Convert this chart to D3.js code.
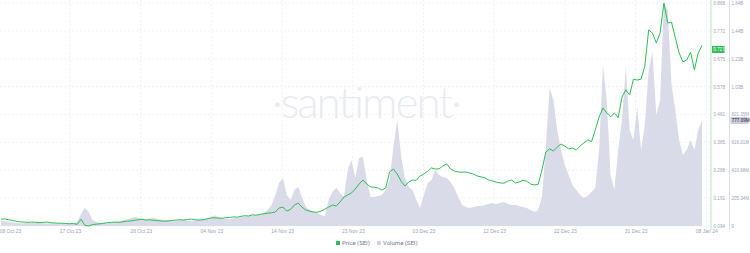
<!DOCTYPE html>
<html>
<head>
<meta charset="utf-8">
<script src="https://cdn.jsdelivr.net/npm/d3@7"></script>
<style>
  body { margin: 0; background: #fff; }
  svg { display: block; font-family: Roboto, "Open Sans", sans-serif; }
</style>
</head>
<body>
<svg width="750" height="253"></svg>
<script>
// 12h points, first one on 08 Oct 23 00:00
const startDate = new Date(2023, 9, 8);
const endDate = new Date(2024, 0, 8);

// SEI price, USD
const price = [
  0.118, 0.119, 0.116, 0.114, 0.111, 0.109, 0.108, 0.107, 0.108, 0.107,
  0.106, 0.107, 0.108, 0.106, 0.105, 0.104, 0.104, 0.103, 0.102, 0.103,
  0.100, 0.118, 0.097, 0.0944, 0.099, 0.101, 0.102, 0.104, 0.106, 0.107,
  0.108, 0.107, 0.109, 0.111, 0.112, 0.114, 0.116, 0.118, 0.115, 0.116,
  0.114, 0.113, 0.112, 0.111, 0.112, 0.114, 0.115, 0.116, 0.115, 0.117,
  0.118, 0.116, 0.115, 0.116, 0.119, 0.122, 0.123, 0.122, 0.121, 0.123,
  0.124, 0.126, 0.125, 0.128, 0.130, 0.129, 0.133, 0.132, 0.135, 0.137,
  0.139, 0.140, 0.143, 0.157, 0.160, 0.146, 0.152, 0.167, 0.174, 0.160,
  0.150, 0.146, 0.143, 0.142, 0.146, 0.153, 0.160, 0.167, 0.164, 0.178,
  0.195, 0.202, 0.209, 0.223, 0.240, 0.254, 0.240, 0.230, 0.229, 0.226,
  0.219, 0.227, 0.282, 0.292, 0.275, 0.250, 0.233, 0.247, 0.254, 0.253,
  0.268, 0.275, 0.285, 0.296, 0.292, 0.293, 0.303, 0.310, 0.292, 0.285,
  0.282, 0.281, 0.282, 0.278, 0.275, 0.268, 0.265, 0.262, 0.254, 0.251,
  0.247, 0.244, 0.243, 0.250, 0.254, 0.244, 0.247, 0.253, 0.250, 0.240,
  0.237, 0.239, 0.289, 0.351, 0.362, 0.355, 0.368, 0.379, 0.372, 0.362,
  0.365, 0.358, 0.372, 0.383, 0.393, 0.387, 0.428, 0.473, 0.504, 0.487,
  0.473, 0.487, 0.470, 0.542, 0.567, 0.549, 0.604, 0.601, 0.604, 0.650,
  0.775, 0.764, 0.730, 0.764, 0.8684, 0.799, 0.802, 0.747, 0.695, 0.664,
  0.671, 0.698, 0.636, 0.695, 0.721
];

// SEI volume, millions
const volume = [
  37, 36, 30, 28, 22, 21, 20, 22, 23, 21,
  24, 20, 19, 21, 19, 17, 16, 19, 21, 22,
  29, 88, 133, 103, 44, 30, 22, 21, 20, 27,
  29, 34, 42, 50, 58, 66, 60, 52, 50, 53,
  60, 54, 46, 43, 44, 38, 36, 42, 45, 39,
  37, 41, 46, 50, 53, 64, 78, 66, 58, 52,
  50, 57, 60, 65, 68, 72, 74, 80, 82, 95,
  118, 155, 228, 317, 354, 228, 192, 265, 287, 214,
  140, 118, 103, 96, 81, 74, 192, 250, 280, 243,
  214, 412, 486, 354, 501, 508, 339, 214, 214, 221,
  228, 265, 339, 582, 781, 523, 354, 287, 265, 192,
  133, 228, 317, 339, 412, 376, 361, 354, 324, 280,
  214, 155, 140, 133, 140, 147, 147, 155, 162, 169,
  162, 169, 177, 162, 155, 155, 147, 140, 133, 118,
  103, 118, 214, 582, 1016, 928, 707, 560, 449, 376,
  302, 265, 228, 206, 221, 250, 280, 560, 1186, 928,
  376, 265, 560, 781, 1171, 707, 633, 877, 560, 744,
  1149, 1282, 818, 928, 1642.7, 1591, 1039, 854, 633, 523,
  560, 633, 560, 707, 777.09
];

const xTickLabels = ["08 Oct 23", "17 Oct 23", "26 Oct 23", "04 Nov 23", "14 Nov 23",
  "23 Nov 23", "03 Dec 23", "12 Dec 23", "22 Dec 23", "31 Dec 23", "08 Jan 24"];
const legendLabels = ["Price (SEI)", "Volume (SEI)"];

const priceColor = "#2fbd55";
const volumeColor = "#d9dbe8";
const textColor = "#9aa3b8";

const svg = d3.select("svg");
const plotTop = 3, plotBottom = 226, plotRight = 710;

const rows = price.map((p, i) => ({
  date: d3.timeHour.offset(startDate, 12 * i),
  price: p,
  volume: volume[i] * 1e6
}));

const x = d3.scaleTime().domain([startDate, endDate]).range([1, 702]);
const pMin = d3.min(price), pMax = d3.max(price);
const yPrice = d3.scaleLinear().domain([pMin, pMax]).range([plotBottom, plotTop]);
const yVol = d3.scaleLinear().domain([0, d3.max(rows, d => d.volume)]).range([plotBottom, plotTop]);

const priceTicks = d3.range(9).map(k => pMin + k * (pMax - pMin) / 8);
const volTicks = d3.range(9).map(k => k * yVol.domain()[1] / 8);

// ticks sit at even pixel steps, like the app does
const tickPx = [10].concat(d3.range(10).map(k => 70 + k * 70.7));
const xTicks = tickPx.map(p => x.invert(p));

// watermark
svg.append("text")
  .attr("x", 367).attr("y", 118)
  .attr("text-anchor", "middle")
  .attr("font-family", "Lato, sans-serif")
  .attr("font-weight", 300)
  .attr("font-size", 44)
  .attr("textLength", 190)
  .attr("fill", "#e9ebf1")
  .text("\u00b7santiment\u00b7");

// grid
const grid = svg.append("g").attr("stroke", "#e8eaf0").attr("stroke-dasharray", "2,2").attr("stroke-width", 0.6);
grid.selectAll("line.h").data(priceTicks).join("line")
  .attr("class", "h")
  .attr("x1", 0).attr("x2", plotRight)
  .attr("y1", d => yPrice(d)).attr("y2", d => yPrice(d));
grid.selectAll("line.v").data(xTicks.slice(1)).join("line")
  .attr("class", "v")
  .attr("x1", d => x(d)).attr("x2", d => x(d))
  .attr("y1", 0).attr("y2", plotBottom);

// volume area
svg.append("path")
  .datum(rows)
  .attr("fill", volumeColor)
  .attr("d", d3.area().x(d => x(d.date)).y0(plotBottom).y1(d => yVol(d.volume)));

// price line
svg.append("path")
  .datum(rows)
  .attr("fill", "none")
  .attr("stroke", priceColor)
  .attr("stroke-width", 1)
  .attr("stroke-linejoin", "round")
  .attr("d", d3.line().x(d => x(d.date)).y(d => yPrice(d.price)));

// x axis
const xAxis = svg.append("g")
  .attr("transform", `translate(0,${plotBottom})`)
  .call(d3.axisBottom(x).tickValues(xTicks).tickSize(0).tickPadding(3)
    .tickFormat((d, i) => xTickLabels[i]));
xAxis.select(".domain").remove();
xAxis.selectAll("text").attr("fill", textColor).attr("font-size", 5);

// price axis
const pAxis = svg.append("g")
  .attr("transform", `translate(711,0)`)
  .call(d3.axisRight(yPrice).tickValues(priceTicks).tickSize(0).tickPadding(2.5)
    .tickFormat(d => d.toFixed(3)));
pAxis.select(".domain").attr("stroke", "#b5e6c2").attr("d", `M0,0V${plotBottom + 4}`);
pAxis.selectAll("text").attr("fill", textColor).attr("font-size", 4.6);

// volume axis
const fmtVol = v => v === 0 ? "0" : v >= 1e9 ? (v / 1e9).toFixed(2) + "B" : (v / 1e6).toFixed(2) + "M";
const vAxis = svg.append("g")
  .attr("transform", `translate(729.5,0)`)
  .call(d3.axisRight(yVol).tickValues(volTicks).tickSize(0).tickPadding(2).tickFormat(fmtVol));
vAxis.select(".domain").attr("stroke", "#dcdfe6").attr("d", `M0,0V${plotBottom + 4}`);
vAxis.selectAll("text").attr("fill", textColor).attr("font-size", 4.5);

// last value badges
const last = rows[rows.length - 1];
const badge = (gx, yv, w, fill, color, label) => {
  const g = svg.append("g").attr("transform", `translate(${gx},${yv})`);
  g.append("rect").attr("x", 0).attr("y", -3.5).attr("width", w).attr("height", 7).attr("fill", fill);
  g.append("text").attr("x", 1.2).attr("y", 0).attr("dy", "0.35em")
    .attr("font-size", 4.6).attr("fill", color).text(label);
};
badge(712, yPrice(last.price) + 4, 12.5, priceColor, "#fff", last.price.toFixed(3));
badge(730.5, yVol(last.volume), 18, "#c9ccdc", "#1c2133", fmtVol(last.volume));

// legend
const legend = svg.append("g").attr("transform", "translate(336,243)");
const legendColors = [priceColor, "#cfd2e0"];
const item = legend.selectAll("g").data(legendLabels).join("g")
  .attr("transform", (d, i) => `translate(${i * 41},0)`);
item.append("rect").attr("x", 0).attr("y", -2).attr("width", 4).attr("height", 4)
  .attr("fill", (d, i) => legendColors[i]);
item.append("text").attr("x", 6).attr("y", 0).attr("dy", "0.35em")
  .attr("font-size", 6).attr("fill", "#6f7a94").text(d => d);
</script>
</body>
</html>
